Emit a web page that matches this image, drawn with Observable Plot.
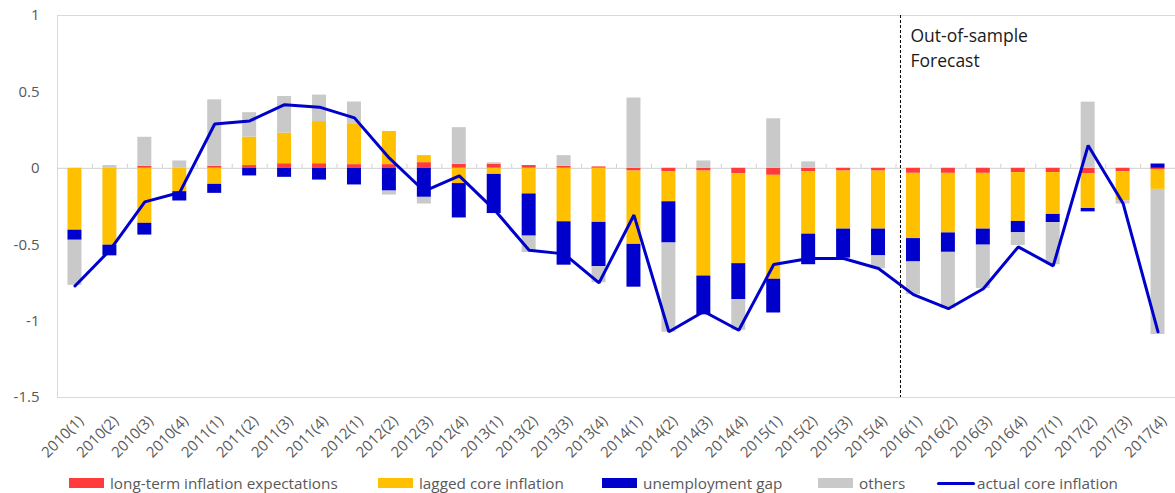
<!DOCTYPE html>
<html>
<head>
<meta charset="utf-8">
<script src="https://cdn.jsdelivr.net/npm/d3@7"></script>
<script src="https://cdn.jsdelivr.net/npm/@observablehq/plot@0.6"></script>
<style>
  html, body { margin: 0; padding: 0; background: #fff; }
  body { width: 1175px; height: 493px; overflow: hidden; font-family: "Open Sans", sans-serif; position: relative; }
  #legend { position: absolute; left: 0; top: 473px; width: 1175px; height: 20px; font-size: 15.3px; color: #595959; }
  .item { position: absolute; top: 0; height: 20px; display: flex; align-items: center; white-space: nowrap; }
  .sw { width: 35px; height: 10px; margin-right: 6px; }
  .ln { width: 38px; height: 3px; margin-right: 2px; border-radius: 2px; }
</style>
</head>
<body>
<div id="chart"></div>
<div id="legend"></div>
<script>
const quarters = [
  "2010(1)","2010(2)","2010(3)","2010(4)",
  "2011(1)","2011(2)","2011(3)","2011(4)",
  "2012(1)","2012(2)","2012(3)","2012(4)",
  "2013(1)","2013(2)","2013(3)","2013(4)",
  "2014(1)","2014(2)","2014(3)","2014(4)",
  "2015(1)","2015(2)","2015(3)","2015(4)",
  "2016(1)","2016(2)","2016(3)","2016(4)",
  "2017(1)","2017(2)","2017(3)","2017(4)"
];
const seriesNames = ["long-term inflation expectations", "lagged core inflation", "unemployment gap", "others"];
const seriesColors = ["#ff3b3b", "#ffc000", "#0000cc", "#c9c9c9"];
const lineName = "actual core inflation";
const lineColor = "#0000cc";

const longTermExpectations = [
  0, 0, 0.013, 0, 0.013, 0.018, 0.03, 0.03,
  0.024, 0.024, 0.037, 0.026, 0.026, 0.018, 0.013, 0.009,
  -0.018, -0.022, -0.018, -0.035, -0.046, -0.022, -0.018, -0.018,
  -0.033, -0.033, -0.033, -0.028, -0.028, -0.035, -0.022, -0.011
];
const laggedCore = [
  -0.405, -0.503, -0.36, -0.153, -0.105, 0.186, 0.2, 0.276,
  0.263, 0.217, 0.046, -0.1, -0.04, -0.168, -0.35, -0.354,
  -0.48, -0.197, -0.687, -0.589, -0.68, -0.409, -0.38, -0.38,
  -0.427, -0.39, -0.365, -0.32, -0.274, -0.228, -0.19, -0.127
];
const unemploymentGap = [
  -0.066, -0.07, -0.077, -0.061, -0.059, -0.05, -0.059, -0.077,
  -0.109, -0.149, -0.19, -0.225, -0.256, -0.276, -0.284, -0.29,
  -0.28, -0.27, -0.254, -0.236, -0.221, -0.2, -0.19, -0.175,
  -0.153, -0.127, -0.105, -0.074, -0.053, -0.022, 0, 0.028
];
const others = [
  -0.295, 0.018, 0.19, 0.048, 0.435, 0.16, 0.24, 0.173,
  0.147, -0.026, -0.044, 0.24, 0.01, -0.107, 0.07, -0.105,
  0.46, -0.584, 0.048, -0.2, 0.324, 0.042, 0, -0.083,
  -0.214, -0.368, -0.284, -0.083, -0.276, 0.433, -0.022, -0.95
];
const actualCore = [
  -0.77, -0.536, -0.22, -0.158, 0.29, 0.31, 0.416, 0.40,
  0.33, 0.066, -0.15, -0.05, -0.27, -0.536, -0.56, -0.75,
  -0.306, -1.07, -0.937, -1.06, -0.63, -0.59, -0.59, -0.656,
  -0.827, -0.919, -0.788, -0.514, -0.639, 0.149, -0.23, -1.07
];
const yTicks = [-1.5, -1, -0.5, 0, 0.5, 1];
const forecastStart = "2016(1)";
const annotation = "Out-of-sample\nForecast";

const seriesValues = [longTermExpectations, laggedCore, unemploymentGap, others];
const bars = [];
seriesNames.forEach((name, s) => {
  quarters.forEach((q, i) => bars.push({quarter: q, series: name, value: seriesValues[s][i]}));
});
const lineData = quarters.map((q, i) => ({quarter: q, value: actualCore[i]}));

const chart = Plot.plot({
  width: 1175,
  height: 470,
  marginLeft: 57,
  marginRight: 0,
  marginTop: 15,
  marginBottom: 73,
  style: {fontFamily: "'Open Sans', sans-serif", color: "#595959", background: "#fff"},
  x: {domain: quarters, paddingInner: 0.6, paddingOuter: 0.3, round: false, label: null},
  y: {domain: [-1.5, 1], label: null},
  color: {domain: seriesNames, range: seriesColors},
  marks: [
    Plot.frame({stroke: "#d9d9d9"}),
    Plot.ruleY([0], {stroke: "#d0d0d0"}),
    Plot.ruleX(quarters, {x: d => d, y1: 0, y2: 0, insetTop: -4, dx: 17.5, stroke: "#d0d0d0"}),
    Plot.barY(bars, Plot.stackY({x: "quarter", y: "value", fill: "series", order: seriesNames})),
    Plot.line(lineData, {x: "quarter", y: "value", stroke: lineColor, strokeWidth: 3, strokeLinejoin: "miter"}),
    Plot.ruleX([forecastStart], {dx: -13, stroke: "#000", strokeDasharray: "3,2", strokeWidth: 1}),
    Plot.text([annotation], {x: () => forecastStart, frameAnchor: "top", lineAnchor: "top", textAnchor: "start", dx: -3, dy: 8, fontSize: 17.5, lineHeight: 1.45, fill: "#1a1a1a"}),
    Plot.axisY({ticks: yTicks, tickSize: 0, tickPadding: 18, fontSize: 15, tickFormat: d => String(d), label: null}),
    Plot.axisX({tickSize: 0, tickRotate: -45, tickPadding: 21, dx: 6, fontSize: 15, label: null})
  ]
});
document.getElementById("chart").appendChild(chart);

const legendLeft = [69, 378, 602, 818];
const legend = document.getElementById("legend");
seriesNames.forEach((name, s) => {
  const item = document.createElement("div");
  item.className = "item";
  item.style.left = legendLeft[s] + "px";
  item.innerHTML = `<span class="sw" style="background:${seriesColors[s]}"></span><span>${name}</span>`;
  legend.appendChild(item);
});
const li = document.createElement("div");
li.className = "item";
li.style.left = "937px";
li.innerHTML = `<span class="ln" style="background:${lineColor}"></span><span>${lineName}</span>`;
legend.appendChild(li);
</script>
</body>
</html>
